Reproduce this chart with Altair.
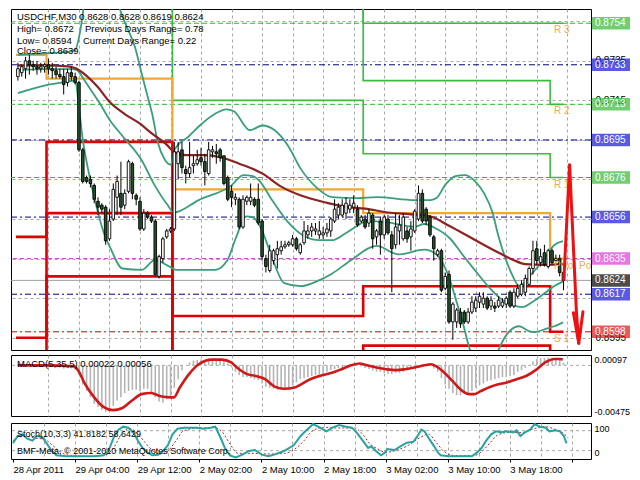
import altair as alt
import pandas as pd

# ------------------------------------------------------------------ USDCHF M30 candles (bar 0 .. 143)
opens = [
    0.8727, 0.8729, 0.8731, 0.8735, 0.8733, 0.8732, 0.8731, 0.8732, 0.8733, 0.8731,
    0.8730, 0.8728, 0.8727, 0.8724, 0.8729, 0.8727, 0.8724, 0.8690, 0.8676, 0.8675,
    0.8672, 0.8664, 0.8662, 0.8661, 0.8645, 0.8655, 0.8666, 0.8668, 0.8662, 0.8669,
    0.8683, 0.8667, 0.8664, 0.8650, 0.8658, 0.8656, 0.8654, 0.8626, 0.8635, 0.8646,
    0.8649, 0.8650, 0.8683, 0.8690, 0.8680, 0.8678, 0.8682, 0.8683, 0.8686, 0.8684,
    0.8678, 0.8689, 0.8689, 0.8690, 0.8687, 0.8676, 0.8669, 0.8665, 0.8665, 0.8651,
    0.8664, 0.8664, 0.8665, 0.8665, 0.8654, 0.8635, 0.8629, 0.8634, 0.8637, 0.8639,
    0.8641, 0.8642, 0.8642, 0.8645, 0.8638, 0.8643, 0.8647, 0.8649, 0.8649, 0.8647,
    0.8647, 0.8648, 0.8649, 0.8654, 0.8657, 0.8657, 0.8658, 0.8660, 0.8661, 0.8660,
    0.8654, 0.8655, 0.8653, 0.8657, 0.8646, 0.8654, 0.8647, 0.8655, 0.8647, 0.8642,
    0.8649, 0.8645, 0.8649, 0.8646, 0.8649, 0.8655, 0.8668, 0.8660, 0.8656, 0.8646,
    0.8637, 0.8639, 0.8620, 0.8627, 0.8603, 0.8603, 0.8608, 0.8608, 0.8603, 0.8608,
    0.8610, 0.8613, 0.8612, 0.8615, 0.8611, 0.8611, 0.8611, 0.8611, 0.8612, 0.8618,
    0.8611, 0.8616, 0.8617, 0.8618, 0.8622, 0.8630, 0.8640, 0.8633, 0.8638, 0.8631,
    0.8639, 0.8634, 0.8635, 0.8628,
]
highs = [
    0.8734, 0.8733, 0.8737, 0.8738, 0.8735, 0.8735, 0.8734, 0.8734, 0.8736, 0.8734,
    0.8732, 0.8731, 0.8731, 0.8731, 0.8732, 0.8729, 0.8725, 0.8691, 0.8677, 0.8677,
    0.8673, 0.8666, 0.8663, 0.8662, 0.8660, 0.8673, 0.8677, 0.8684, 0.8670, 0.8685,
    0.8684, 0.8668, 0.8666, 0.8660, 0.8659, 0.8657, 0.8655, 0.8637, 0.8646, 0.8650,
    0.8651, 0.8694, 0.8694, 0.8694, 0.8682, 0.8694, 0.8687, 0.8690, 0.8691, 0.8688,
    0.8694, 0.8692, 0.8693, 0.8691, 0.8687, 0.8677, 0.8672, 0.8668, 0.8666, 0.8667,
    0.8667, 0.8673, 0.8666, 0.8673, 0.8655, 0.8637, 0.8642, 0.8640, 0.8644, 0.8644,
    0.8644, 0.8644, 0.8647, 0.8646, 0.8643, 0.8654, 0.8652, 0.8653, 0.8653, 0.8654,
    0.8651, 0.8653, 0.8656, 0.8665, 0.8663, 0.8665, 0.8666, 0.8665, 0.8667, 0.8662,
    0.8657, 0.8657, 0.8660, 0.8658, 0.8650, 0.8656, 0.8657, 0.8657, 0.8649, 0.8658,
    0.8657, 0.8658, 0.8651, 0.8654, 0.8660, 0.8672, 0.8670, 0.8661, 0.8657, 0.8647,
    0.8640, 0.8640, 0.8628, 0.8629, 0.8613, 0.8610, 0.8610, 0.8609, 0.8610, 0.8616,
    0.8616, 0.8618, 0.8618, 0.8616, 0.8616, 0.8613, 0.8616, 0.8615, 0.8616, 0.8619,
    0.8620, 0.8622, 0.8624, 0.8627, 0.8631, 0.8644, 0.8644, 0.8640, 0.8642, 0.8640,
    0.8640, 0.8637, 0.8637, 0.8628,
]
lows = [
    0.8725, 0.8727, 0.8726, 0.8728, 0.8730, 0.8728, 0.8729, 0.8729, 0.8728, 0.8726,
    0.8726, 0.8726, 0.8718, 0.8722, 0.8725, 0.8723, 0.8689, 0.8673, 0.8673, 0.8671,
    0.8663, 0.8657, 0.8658, 0.8642, 0.8644, 0.8654, 0.8657, 0.8657, 0.8660, 0.8668,
    0.8665, 0.8662, 0.8649, 0.8649, 0.8655, 0.8653, 0.8626, 0.8625, 0.8633, 0.8645,
    0.8648, 0.8649, 0.8675, 0.8678, 0.8673, 0.8676, 0.8678, 0.8682, 0.8682, 0.8672,
    0.8677, 0.8686, 0.8683, 0.8684, 0.8672, 0.8664, 0.8661, 0.8662, 0.8650, 0.8650,
    0.8662, 0.8662, 0.8661, 0.8652, 0.8634, 0.8628, 0.8628, 0.8632, 0.8630, 0.8637,
    0.8640, 0.8641, 0.8641, 0.8639, 0.8637, 0.8642, 0.8645, 0.8646, 0.8647, 0.8645,
    0.8645, 0.8646, 0.8646, 0.8653, 0.8655, 0.8656, 0.8655, 0.8658, 0.8658, 0.8651,
    0.8653, 0.8650, 0.8651, 0.8640, 0.8642, 0.8637, 0.8645, 0.8647, 0.8618, 0.8640,
    0.8642, 0.8644, 0.8643, 0.8639, 0.8648, 0.8654, 0.8653, 0.8652, 0.8646, 0.8634,
    0.8636, 0.8618, 0.8619, 0.8602, 0.8594, 0.8600, 0.8600, 0.8602, 0.8602, 0.8607,
    0.8608, 0.8610, 0.8610, 0.8609, 0.8609, 0.8608, 0.8610, 0.8610, 0.8610, 0.8610,
    0.8610, 0.8615, 0.8616, 0.8616, 0.8621, 0.8627, 0.8632, 0.8631, 0.8631, 0.8630,
    0.8632, 0.8633, 0.8626, 0.8619,
]
closes = [
    0.8731, 0.8732, 0.8735, 0.8733, 0.8732, 0.8731, 0.8732, 0.8733, 0.8731, 0.8730,
    0.8728, 0.8727, 0.8723, 0.8729, 0.8727, 0.8724, 0.8690, 0.8674, 0.8674, 0.8673,
    0.8665, 0.8661, 0.8660, 0.8644, 0.8654, 0.8670, 0.8674, 0.8661, 0.8668, 0.8684,
    0.8668, 0.8665, 0.8650, 0.8658, 0.8656, 0.8654, 0.8627, 0.8636, 0.8645, 0.8649,
    0.8650, 0.8689, 0.8689, 0.8681, 0.8678, 0.8681, 0.8683, 0.8685, 0.8684, 0.8679,
    0.8690, 0.8690, 0.8688, 0.8686, 0.8673, 0.8665, 0.8666, 0.8666, 0.8651, 0.8665,
    0.8666, 0.8666, 0.8662, 0.8653, 0.8636, 0.8631, 0.8639, 0.8639, 0.8640, 0.8641,
    0.8642, 0.8643, 0.8645, 0.8640, 0.8642, 0.8649, 0.8649, 0.8651, 0.8650, 0.8649,
    0.8648, 0.8650, 0.8655, 0.8660, 0.8661, 0.8662, 0.8663, 0.8662, 0.8663, 0.8652,
    0.8656, 0.8651, 0.8658, 0.8645, 0.8649, 0.8647, 0.8656, 0.8648, 0.8640, 0.8651,
    0.8652, 0.8656, 0.8645, 0.8650, 0.8659, 0.8668, 0.8654, 0.8654, 0.8647, 0.8640,
    0.8639, 0.8619, 0.8626, 0.8603, 0.8612, 0.8609, 0.8602, 0.8603, 0.8608, 0.8613,
    0.8614, 0.8616, 0.8615, 0.8610, 0.8614, 0.8610, 0.8614, 0.8613, 0.8615, 0.8611,
    0.8618, 0.8620, 0.8622, 0.8625, 0.8630, 0.8639, 0.8634, 0.8636, 0.8632, 0.8639,
    0.8633, 0.8635, 0.8628, 0.8624,
]

# ------------------------------------------------------------------ moving average (maroon)
ma_bars = [0, 7, 13, 15, 18, 21, 24, 28, 32, 35, 39, 41, 44, 49, 53, 58, 64, 69, 74, 81,
           86, 91, 97, 103, 108, 113, 119, 125, 130, 133, 138, 143]
ma_vals = [0.87327, 0.87327, 0.87322, 0.87313, 0.87274, 0.87216, 0.87143, 0.87081, 0.87032, 0.86984,
           0.86926, 0.86888, 0.86873, 0.86873, 0.86863, 0.86830, 0.86781, 0.86714, 0.86670, 0.86632,
           0.86612, 0.86603, 0.86583, 0.86574, 0.86564, 0.86516, 0.86453, 0.86390, 0.86342, 0.86322,
           0.86318, 0.86322]

# ------------------------------------------------------------------ Bollinger bands (green)
bb_up_bars = [0, 4.2, 9.2, 13, 15, 16, 17, 18, 20, 23, 25, 26.7, 28.7, 30.7, 32.4, 33.9, 35.2, 36.7,
              38.4, 40.1, 41.1, 44.9, 47.4, 51.6, 54.6, 56.6, 60.8, 64.1, 67.3, 70.8, 74.1, 78.3, 82.3,
              89, 94, 104, 108.2, 109.7, 112.2, 114.7, 117.2, 119.7, 122.2, 124.4, 125.9, 127.7, 129.4,
              131.4, 134.7, 138.2, 140.6, 142.9]
bb_up_vals = [0.87380, 0.87385, 0.87390, 0.87395, 0.87404, 0.87467, 0.87588, 0.87757, 0.87902, 0.87902,
              0.87733, 0.87612, 0.87515, 0.87419, 0.87288, 0.87177, 0.87081, 0.86936, 0.86854, 0.86825,
              0.86902, 0.86970, 0.87018, 0.87081, 0.87105, 0.87095, 0.86999, 0.87023, 0.86999, 0.86921,
              0.86805, 0.86709, 0.86661, 0.86656, 0.86661, 0.86646, 0.86646, 0.86656, 0.86728, 0.86767,
              0.86772, 0.86743, 0.86680, 0.86583, 0.86467, 0.86356, 0.86274, 0.86211, 0.86274, 0.86356,
              0.86419, 0.86438]
bb_mid_bars = [0, 8, 14.2, 15.5, 16.7, 18, 21.2, 24.2, 27.4, 32.4, 35.9, 39.2, 40.9, 47.4, 55.9, 59.1,
               61.6, 63.3, 66.6, 70.8, 74.8, 79.1, 82.3, 85.8, 89, 91.5, 96.5, 104, 106.5, 109.7, 113.2,
               116.5, 119.7, 123.2, 126.4, 129.7, 132.2, 134.7, 138.2, 140.6, 142.9]
bb_mid_vals = [0.87303, 0.87308, 0.87308, 0.87303, 0.87274, 0.87235, 0.87143, 0.87047, 0.86970, 0.86849,
               0.86719, 0.86622, 0.86583, 0.86646, 0.86719, 0.86772, 0.86767, 0.86743, 0.86646, 0.86535,
               0.86467, 0.86443, 0.86443, 0.86477, 0.86516, 0.86540, 0.86535, 0.86511, 0.86525, 0.86501,
               0.86453, 0.86371, 0.86293, 0.86211, 0.86149, 0.86115, 0.86105, 0.86129, 0.86177, 0.86211,
               0.86235]
bb_low_bars = [0, 7.2, 13, 15, 16, 17, 18, 20, 22.4, 24.2, 27.4, 32.4, 35.9, 39.9, 41.6, 47.4, 51.6,
               54.9, 57.1, 59.9, 61.6, 64.1, 66.6, 69.8, 74.1, 78.3, 82.3, 87.3, 94, 99.8, 106.5, 109.7,
               111.5, 113.2, 114.7, 116.5, 118.2, 120.2, 123.2, 125.2, 126.4, 128.9, 131.4, 133.9, 135.7,
               138.2, 140.6, 142.9]
bb_low_vals = [0.87187, 0.87226, 0.87245, 0.87250, 0.87115, 0.86951, 0.86840, 0.86661, 0.86487, 0.86405,
               0.86300, 0.86293, 0.86342, 0.86308, 0.86293, 0.86293, 0.86293, 0.86342, 0.86453, 0.86564,
               0.86559, 0.86487, 0.86356, 0.86226, 0.86211, 0.86235, 0.86274, 0.86342, 0.86414, 0.86371,
               0.86395, 0.86371, 0.86322, 0.86245, 0.86149, 0.86033, 0.85907, 0.85801, 0.85777, 0.85850,
               0.85907, 0.85984, 0.86008, 0.85984, 0.85979, 0.85994, 0.86008, 0.86028]

# ------------------------------------------------------------------ daily pivot levels (days A..E)
day_bars = [-0.5, 7.5, 40.5, 90.5, 139.5, 143]
pivot_levels = {
    "R3": [0.8932, 0.8830, 0.8824, 0.8754, 0.8754],
    "R2": [0.8881, 0.8794, 0.8779, 0.8725, 0.8713],
    "R1": [0.8789, 0.8762, 0.8715, 0.8688, 0.8676],
    "P":  [0.8738, 0.8726, 0.8670, 0.8658, 0.8635],
    "S1": [0.8646, 0.8694, 0.8606, 0.8621, 0.8598],
    "S2": [0.8595, 0.8658, 0.8561, 0.8591, 0.8557],
    "S3": [0.8503, 0.8626, 0.8497, 0.8554, 0.8520],
}
pivot_label_text = ["R 3", "R 2", "R 1", "Pivot Point", "S 1"]
pivot_label_keys = ["R3", "R2", "R1", "P", "S1"]

# right-hand price boxes and the horizontal levels they mark
box_prices = [0.8754, 0.8733, 0.8713, 0.8695, 0.8676, 0.8656, 0.8635, 0.8624, 0.8617, 0.8598]
box_kinds = ["R", "M", "R", "M", "R", "M", "P", "B", "M", "S"]
price_ticks = [0.8595, 0.8615, 0.8635, 0.8655, 0.8675, 0.8695, 0.8715, 0.8735, 0.8755]
price_ticks_peeking = [0.8595, 0.8715, 0.8735]   # the scale labels not hidden behind a box

# hand drawn red arrow
arrow_seg = ["a", "a", "a", "a", "a", "b", "b"]
arrow_bars = [143.1, 144.6, 146.4, 147.0, 148.1, 145.6, 147.0]
arrow_vals = [0.86245, 0.86825, 0.86076, 0.85922, 0.86081, 0.86076, 0.85922]

# ------------------------------------------------------------------ MACD(5,35,5)
macd_hist = [
    0.00005, 0.00008, 0.0001, 0.00008, 0.00005, 0.0, -0.00005, -0.0001, -0.00012, -0.00015,
    -0.0002, -0.00022, -0.0003, -0.00025, -0.0003, -0.00038, -0.0009, -0.0018, -0.0024, -0.003,
    -0.0036, -0.0039, -0.0042, -0.0044, -0.0042, -0.0038, -0.0033, -0.003, -0.0026, -0.0024,
    -0.0023, -0.0023, -0.0024, -0.0022, -0.0022, -0.0026, -0.003, -0.0034, -0.0035, -0.0032,
    -0.003, -0.0021, -0.0013, -0.00045, 0.0, 0.00027, 0.00045, 0.0005, 0.00055, 0.0005,
    0.00055, 0.0006, 0.0006, 0.00055, 0.0004, 0.0002, -0.0002, -0.0006, -0.0009, -0.0011,
    -0.0011, -0.0012, -0.0013, -0.0014, -0.0017, -0.002, -0.0021, -0.0022, -0.0023, -0.0023,
    -0.0022, -0.0021, -0.0019, -0.0016, -0.0013, -0.0012, -0.0011, -0.001, -0.0009, -0.0009,
    -0.0008, -0.0006, -0.00045, -0.00035, -0.00027, -0.0002, -0.00015, -0.0001, 0.0, -0.00005,
    -0.0001, -0.00025, -0.00035, -0.0005, -0.0006, -0.0006, -0.0007, -0.0008, -0.0008, -0.0007,
    -0.0007, -0.0006, -0.00045, -0.00035, -0.00025, -0.0001, -0.0001, 0.0, -0.00005, -0.0003,
    -0.0006, -0.0012, -0.0018, -0.0022, -0.0026, -0.0028, -0.0028, -0.0027, -0.0026, -0.0024,
    -0.0021, -0.0019, -0.0017, -0.0015, -0.0014, -0.0013, -0.0012, -0.0011, -0.0011, -0.001,
    -0.0009, -0.0006, -0.00045, -0.00025, 0.0, 0.00035, 0.0006, 0.0007, 0.0007, 0.00072,
    0.0007, 0.0006, 0.0005, 0.00022,
]
macd_sig_bars = [0, 7.5, 14.7, 16, 17.5, 20, 22.4, 24.9, 27.4, 29.9, 32.4, 34.9, 37.4, 39.9, 40.9,
                 42.4, 44.9, 47.4, 50.9, 53.4, 55.9, 57.4, 59.9, 62.3, 64.8, 67.3, 69.8, 72.3, 74.1,
                 76.6, 79.1, 82.3, 84.8, 87.3, 89.5, 91.5, 94, 96.5, 99, 101.5, 104, 106.5, 108.2,
                 109.7, 111.5, 114, 116.5, 118.2, 119.7, 121.4, 123.9, 125.7, 128.2, 130.7, 133.2,
                 135.7, 138.2, 140.7, 141.9, 142.8]
macd_sig_vals = [0.0, 0.0, -0.0001, -0.0006, -0.0017, -0.003, -0.0039, -0.0042, -0.004, -0.0033,
                 -0.0027, -0.0026, -0.0029, -0.003, -0.003, -0.0021, -0.0008, 0.0001, 0.00054, 0.00054,
                 0.00027, -0.0002, -0.0008, -0.001, -0.0013, -0.002, -0.0022, -0.0021, -0.0018, -0.0013,
                 -0.001, -0.0007, -0.00036, 0.0, 0.00018, 0.0, -0.0002, -0.00036, -0.00045, -0.00036,
                 -0.0002, 0.0, 0.0001, -0.0001, -0.0006, -0.0015, -0.0024, -0.0027, -0.0027, -0.0024,
                 -0.002, -0.0018, -0.0016, -0.0013, -0.001, -0.00045, 0.00027, 0.0006, 0.0006, 0.00056]
macd_ticks = [0.00097, 0.0, -0.00475]

# ------------------------------------------------------------------ Stochastic(10,3,3)
stoch_bars = [0, 1.2, 2.5, 3.7, 5, 6.2, 7.5, 8.7, 10, 11.2,
              13.7, 16, 18.5, 21, 23.4, 24.7, 26, 27.2, 28.4, 29.7,
              31, 32.2, 33.4, 34.7, 35.9, 37.4, 38.7, 39.9, 41.1, 42.4,
              44.1, 45.9, 47.4, 49.1, 50.9, 52.1, 53.4, 54.6, 55.9, 57.4,
              59.1, 60.8, 62.3, 64.1, 65.8, 67.3, 69.8, 72.3, 74.1, 75.3,
              76.6, 77.3, 78.6, 80.8, 82.3, 84, 85.8, 87.3, 88.5, 90.3,
              91.5, 92.3, 93.5, 94.8, 95.8, 96.5, 98.3, 99.8, 101.5, 103.2,
              104.5, 105.2, 106, 107.2, 108.5, 109.5, 110.2, 112.2, 115.7, 118.2,
              119.5, 120.7, 121.9, 123.2, 124.4, 125.7, 127.2, 128.9, 129.7, 130.7,
              131.9, 133.2, 134.4, 135.7, 137.2, 138.2, 139.7, 140.9, 141.9, 142.6]
stoch_vals = [42, 64, 69, 56, 50, 64, 61, 42, 19, 6,
              3, 3, 3, 3, 6, 22, 61, 83, 92, 89,
              75, 50, 28, 14, 6, 8, 19, 36, 69, 86,
              89, 89, 89, 86, 89, 92, 61, 28, 6, 0,
              8, 19, 22, 8, 3, 8, 19, 36, 64, 78,
              92, 100, 92, 78, 89, 97, 92, 89, 75, 47,
              28, 33, 19, 6, 14, 25, 22, 33, 44, 47,
              69, 83, 78, 56, 33, 14, 6, 3, 3, 3,
              14, 28, 50, 69, 78, 75, 78, 75, 81, 64,
              75, 83, 100, 92, 89, 78, 81, 78, 64, 41.8]
stoch_sig_bars = [0, 2, 4, 6, 8, 10, 12, 14, 20, 24, 26, 28, 30, 32, 34, 36, 38, 40, 42, 44,
                  48, 52, 54, 56, 58, 62, 66, 70, 73, 75, 77, 80, 84, 88, 90, 92, 94, 96, 99, 102,
                  105, 107, 109, 111, 114, 119, 121, 123, 125, 128, 131, 134, 137, 140, 142, 143]
stoch_sig_vals = [50, 62, 62, 57, 55, 38, 18, 7, 3, 8, 30, 70, 87, 72, 45, 20, 10, 20, 50, 80,
                  88, 89, 75, 38, 12, 12, 10, 12, 28, 50, 78, 90, 88, 88, 70, 40, 25, 15, 22, 37,
                  60, 70, 45, 18, 5, 6, 20, 45, 68, 75, 74, 85, 92, 82, 70, 58.6]
stoch_ticks = [100, 80, 20, 0]
stoch_levels = [80, 20]

# ------------------------------------------------------------------ texts
x_labels = ["28 Apr 2011", "29 Apr 04:00", "29 Apr 12:00", "2 May 02:00", "2 May 10:00",
            "2 May 18:00", "3 May 02:00", "3 May 10:00", "3 May 18:00"]
x_grid_bars = list(range(0, 145, 8))
title_line = "USDCHF,M30  0.8628 0.8628 0.8619 0.8624"
info_left = ["High= 0.8672", "Low= 0.8594", "Close= 0.8639"]
info_right = ["Previous Days Range= 0.78", "Current Days Range= 0.22"]
macd_title = "MACD(5,35,5) 0.00022 0.00056"
stoch_title = "Stoch(10,3,3) 41.8182 58.6429"
copyright_text = "BMF-Meta, \u00a9 2001-2010 MetaQuotes Software Corp."

# ------------------------------------------------------------------ layout / style
W = 580
H_MAIN, H_MACD, H_STOCH = 341, 61, 36
XDOM = [-0.5, 148.9]
FONT = "Liberation Sans"
GRID = "#a8a8a8"
BEAR = "#24532a"

xscale = alt.Scale(domain=XDOM, nice=False, zero=False)
grid_op = {"condition": {"test": "datum.value == 0", "value": 0}, "value": 1}
axis_x_plain = alt.Axis(values=x_grid_bars, grid=True, gridColor=GRID, gridDash=[3, 3],
                        gridOpacity=grid_op, domain=False, ticks=False, labels=False, title=None)
js_labels = "[" + ",".join("'%s'" % t for t in x_labels) + "]"
axis_x_lab = alt.Axis(
    values=x_grid_bars, grid=True, gridColor=GRID, gridDash=[3, 3], gridOpacity=grid_op,
    domain=False, ticks=True, tickSize=3, tickColor="black",
    tickOpacity={"condition": {"test": "datum.value % 16 == 0", "value": 1}, "value": 0},
    labels=True,
    labelExpr="datum.value % 16 == 0 && datum.value <= 128 ? " + js_labels + "[datum.value / 16] : ''",
    labelAlign="left", labelBaseline="top", labelPadding=2, labelFont=FONT, labelFontSize=9.5,
    labelOverlap=False, labelFlush=False, labelBound=False, title=None)

X_MAIN = alt.X("bar:Q", scale=xscale, axis=axis_x_plain)
X_STOCH = alt.X("bar:Q", scale=xscale, axis=axis_x_lab)

peek_test = " || ".join("datum.value == %s" % v for v in price_ticks_peeking)
yscale_main = alt.Scale(domain=[0.85888, 0.87612], nice=False, zero=False)
axis_y_main = alt.Axis(orient="right", values=price_ticks, grid=True, gridColor=GRID,
                       gridDash=[3, 3], domain=False, ticks=False, labelPadding=4, labelFont=FONT,
                       labelFontSize=10, title=None,
                       labelExpr="(" + peek_test + ") ? format(datum.value, '.4f') : ''")


def Ym(field):
    return alt.Y(field + ":Q", scale=yscale_main, axis=axis_y_main)


def note(txt, x, y, size=9.5, color="black"):
    return alt.Chart(pd.DataFrame({"t": [txt]})).mark_text(
        align="left", baseline="middle", font=FONT, fontSize=size, color=color
    ).encode(x=alt.value(x), y=alt.value(y), text="t:N")


# ------------------------------------------------------------------ main panel data
bars = list(range(len(opens)))
candles = pd.DataFrame({"bar": bars, "open": opens, "high": highs, "low": lows, "close": closes})
levels_df = pd.DataFrame({"price": box_prices, "kind": box_kinds})

step_rows = []
for name, vals in pivot_levels.items():
    for b, v in zip(day_bars, vals + [vals[-1]]):
        step_rows.append({"bar": b, "price": v, "level": name})
steps = pd.DataFrame(step_rows)

bb = pd.concat([
    pd.DataFrame({"bar": bb_up_bars, "price": bb_up_vals, "band": "up"}),
    pd.DataFrame({"bar": bb_mid_bars, "price": bb_mid_vals, "band": "mid"}),
    pd.DataFrame({"bar": bb_low_bars, "price": bb_low_vals, "band": "low"}),
])
ma = pd.DataFrame({"bar": ma_bars, "price": ma_vals})
arrow = pd.DataFrame({"bar": arrow_bars, "price": arrow_vals, "seg": arrow_seg,
                      "ord": list(range(len(arrow_bars)))})
plabels = pd.DataFrame({"price": [pivot_levels[k][-1] for k in pivot_label_keys],
                        "t": pivot_label_text})


def ext_rule(kind, color, dash, width=1.0):
    m = alt.Chart(levels_df).transform_filter("datum.kind == '%s'" % kind)
    if dash:
        return m.mark_rule(color=color, strokeDash=dash, strokeWidth=width).encode(y=Ym("price"))
    return m.mark_rule(color=color, strokeWidth=width).encode(y=Ym("price"))


def step_layer(prefix, color, width):
    return alt.Chart(steps).transform_filter("indexof(datum.level, '%s') == 0" % prefix).mark_line(
        interpolate="step-after", clip=True, color=color, strokeWidth=width
    ).encode(x=X_MAIN, y=Ym("price"), detail="level:N")


layers = [
    ext_rule("R", "#2fb52f", [5, 3]),
    ext_rule("M", "#00008b", [6, 3, 2, 3]),
    ext_rule("P", "#cc33cc", [4, 3]),
    ext_rule("S", "#cc0000", [6, 3, 2, 3]),
    ext_rule("B", "#a0a0a0", None),
    step_layer("R", "#3cbc3c", 1.6),
    step_layer("P", "#f0a830", 2.2),
    step_layer("S", "#e00000", 2.6),
    alt.Chart(bb).mark_line(interpolate="monotone", clip=True, color="#3a9f78", strokeWidth=1.8).encode(
        x=X_MAIN, y=Ym("price"), detail="band:N"),
    alt.Chart(ma).mark_line(interpolate="monotone", clip=True, color="#8b2323", strokeWidth=2.2).encode(
        x=X_MAIN, y=Ym("price")),
    alt.Chart(candles).mark_rule(color="black", strokeWidth=1).encode(
        x=X_MAIN, y=Ym("low"), y2="high"),
    alt.Chart(candles).transform_filter("datum.close >= datum.open").mark_bar(
        width=2.6, fill="white", stroke="black", strokeWidth=0.9).encode(
        x=X_MAIN, y=Ym("open"), y2="close"),
    alt.Chart(candles).transform_filter("datum.close < datum.open").mark_bar(
        width=2.6, fill=BEAR, stroke="black", strokeWidth=0.9).encode(
        x=X_MAIN, y=Ym("open"), y2="close"),
    alt.Chart(plabels).mark_text(align="left", baseline="middle", dy=7, color="#eeac4e", font=FONT,
                                 fontSize=10, clip=True).encode(
        x=alt.XDatum(day_bars[-2] + 1, type="quantitative", scale=xscale, axis=axis_x_plain),
        y=Ym("price"), text="t:N"),
    alt.Chart(arrow).mark_line(color="#ee1111", strokeWidth=3, strokeCap="round",
                               strokeJoin="round").encode(
        x=X_MAIN, y=Ym("price"), detail="seg:N", order="ord:Q"),
    alt.Chart(levels_df).mark_tick(orient="horizontal", thickness=12.5).encode(
        x=alt.value(W + 20), y=Ym("price"), size=alt.value(38),
        color=alt.Color("kind:N", legend=None,
                        scale=alt.Scale(domain=["R", "M", "P", "B", "S"],
                                        range=["#35b935", "#1212d6", "#dc3adc", "#000000", "#e01616"]))),
    alt.Chart(levels_df).mark_text(align="left", baseline="middle", color="white", font=FONT,
                                   fontSize=10).encode(
        x=alt.value(W + 4), y=Ym("price"), text=alt.Text("price:Q", format=".4f")),
    note(title_line, 6, 8),
    note(info_left[0], 6, 20),
    note(info_left[1], 6, 31.5),
    note(info_left[2], 6, 42),
    note(info_right[0], 74, 20),
    note(info_right[1], 72, 31.5),
]
main = alt.layer(*layers).properties(width=W, height=H_MAIN)

# ------------------------------------------------------------------ MACD panel
yscale_macd = alt.Scale(domain=[-0.00475, 0.00097], nice=False, zero=False)
axis_y_macd = alt.Axis(
    orient="right", values=macd_ticks, grid=False, domain=False, ticks=False, labelPadding=3,
    labelFont=FONT, labelFontSize=9, title=None,
    labelExpr="datum.value == 0 ? '0.00' : (datum.value < 0 ? '-' : '') + format(abs(datum.value), '.5f')",
    labelBaseline={"condition": [{"test": "datum.value > 0", "value": "top"},
                                 {"test": "datum.value < 0", "value": "bottom"}], "value": "middle"})


def Yd(field):
    return alt.Y(field + ":Q", scale=yscale_macd, axis=axis_y_macd)


macd_df = pd.DataFrame({"bar": bars, "v": macd_hist})
sig_df = pd.DataFrame({"bar": macd_sig_bars, "v": macd_sig_vals})
macd = alt.layer(
    alt.Chart(pd.DataFrame({"v": [0.0]})).mark_rule(color=GRID, strokeDash=[3, 3]).encode(y=Yd("v")),
    alt.Chart(macd_df).mark_bar(width=1.6, color="#b4b4b4").encode(x=X_MAIN, y=Yd("v"), y2=alt.datum(0)),
    alt.Chart(sig_df).mark_line(color="#d01818", strokeWidth=2.6, interpolate="monotone").encode(
        x=X_MAIN, y=Yd("v")),
    note(macd_title, 6, 8.5),
).properties(width=W, height=H_MACD)

# ------------------------------------------------------------------ Stochastic panel
yscale_st = alt.Scale(domain=[-5, 103], nice=False, zero=False)
axis_y_st = alt.Axis(
    orient="right", values=stoch_ticks, format="d", grid=False, domain=False, ticks=False,
    labelPadding=3, labelFont=FONT, labelFontSize=9, title=None,
    labelBaseline={"condition": [{"test": "datum.value == 100", "value": "top"},
                                 {"test": "datum.value == 0", "value": "bottom"}], "value": "middle"})


def Ys(field):
    return alt.Y(field + ":Q", scale=yscale_st, axis=axis_y_st)


st_df = pd.DataFrame({"bar": stoch_bars, "v": stoch_vals})
ss_df = pd.DataFrame({"bar": stoch_sig_bars, "v": stoch_sig_vals})
stoch = alt.layer(
    alt.Chart(pd.DataFrame({"v": stoch_levels})).mark_rule(color=GRID, strokeDash=[3, 3]).encode(y=Ys("v")),
    alt.Chart(ss_df).mark_line(color="#b02a2a", strokeWidth=1, strokeDash=[2, 2],
                               interpolate="monotone").encode(x=X_STOCH, y=Ys("v")),
    alt.Chart(st_df).mark_line(color="#27a3a0", strokeWidth=2).encode(x=X_STOCH, y=Ys("v")),
    note(stoch_title, 6, 10.5, size=9),
    note(copyright_text, 6, 28, size=9),
).properties(width=W, height=H_STOCH)

chart = alt.vconcat(main, macd, stoch, spacing=2).configure(
    background="white", padding={"left": 0, "top": 0, "right": 1, "bottom": 1}, font=FONT
).configure_view(stroke="black", strokeWidth=1).configure_axis(labelFont=FONT, labelColor="black")

chart.save("out.html", embed_options={"renderer": "svg", "actions": False})
